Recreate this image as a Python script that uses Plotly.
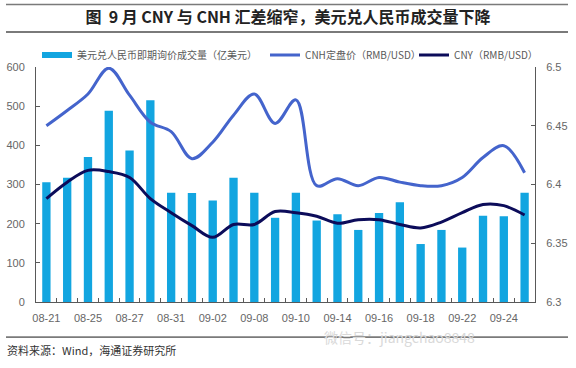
import plotly.graph_objects as go

dates = ["08-21", "08-24", "08-25", "08-26", "08-27", "08-28", "08-31", "09-01",
         "09-02", "09-07", "09-08", "09-09", "09-10", "09-11", "09-14", "09-15",
         "09-16", "09-17", "09-18", "09-21", "09-22", "09-23", "09-24", "09-25"]
tick_labels = ["08-21", "08-25", "08-27", "08-31", "09-02", "09-08", "09-10",
               "09-14", "09-16", "09-18", "09-22", "09-24"]
volume = [306, 317, 370, 488, 387, 515, 279, 278, 259, 317, 279, 215,
          279, 208, 224, 184, 227, 255, 148, 184, 139, 220, 219, 279]
cnh = [6.450, 6.463, 6.477, 6.499, 6.476, 6.453, 6.445, 6.422, 6.436, 6.459, 6.477, 6.452,
       6.472, 6.399, 6.405, 6.399, 6.406, 6.402, 6.399, 6.399, 6.406, 6.423, 6.433, 6.410]
cny = [6.388, 6.402, 6.412, 6.411, 6.406, 6.388, 6.376, 6.365, 6.355, 6.366, 6.366, 6.377,
       6.376, 6.373, 6.367, 6.370, 6.370, 6.366, 6.363, 6.368, 6.376, 6.383, 6.382, 6.374]

name_vol = "美元兑人民币即期询价成交量（亿美元）"
name_cnh = "CNH定盘价（RMB/USD）"
name_cny = "CNY（RMB/USD）"
title = "图  9 月 CNY 与 CNH 汇差缩窄，美元兑人民币成交量下降"
source = "资料来源：Wind，海通证券研究所"

bar_color = "#12A5E0"
cnh_color = "#4464CC"
cny_color = "#0C0C5A"
axis_color = "#595959"
rule_color = "#7a7a7a"
tick_font = dict(family="Liberation Sans, Arial, sans-serif", size=11, color="#666666")
cjk = "Noto Sans CJK SC, sans-serif"

ticktext = [d if d in tick_labels else "" for d in dates]

fig = go.Figure()
# legend swatch for bars (flat bar as in reference legend)
fig.add_trace(go.Scatter(x=[None], y=[None], mode="lines", name=name_vol, legend="legend",
                         line=dict(color=bar_color, width=6), hoverinfo="skip"))
fig.add_trace(go.Bar(x=dates, y=volume, marker=dict(color=bar_color, line=dict(width=0)),
                     name=name_vol, showlegend=False, yaxis="y"))
fig.add_trace(go.Scatter(x=dates, y=cnh, mode="lines", name=name_cnh, yaxis="y2",
                         legend="legend2",
                         line=dict(color=cnh_color, width=3, shape="spline", smoothing=1)))
fig.add_trace(go.Scatter(x=dates, y=cny, mode="lines", name=name_cny, yaxis="y2",
                         legend="legend3",
                         line=dict(color=cny_color, width=3, shape="spline", smoothing=1)))

L, R, T, B = 36, 41, 67, 66
W, H = 576, 368
pw, ph = W - L - R, H - T - B

def px_x(p):
    return (p - L) / pw

def px_y(p):
    return (H - B - p) / ph

def legend_at(xpx):
    return dict(orientation="h", xref="container", yref="container",
                x=xpx / W, y=1 - 55 / H, xanchor="left", yanchor="middle",
                font=dict(family=cjk, size=10, color="#595959"),
                bgcolor="rgba(0,0,0,0)", itemwidth=30)

def rule_box(ypx, thick):
    # horizontal rule drawn as a thin filled annotation box
    return dict(text=" ", x=px_x(6), y=px_y(ypx), xref="paper", yref="paper",
                xanchor="left", yanchor="middle", showarrow=False,
                width=562, height=thick, bgcolor=rule_color, borderpad=0, borderwidth=0,
                font=dict(size=1, color=rule_color))

def rule_shape(ypx, thick):
    return dict(type="line", xref="paper", yref="paper", x0=px_x(6), x1=px_x(568),
                y0=px_y(ypx), y1=px_y(ypx), layer="above",
                line=dict(color=rule_color, width=thick))

fig.update_layout(
    width=W, height=H,
    margin=dict(l=L, r=R, t=T, b=B, pad=0, autoexpand=False),
    paper_bgcolor="white", plot_bgcolor="white",
    bargap=0.6,
    showlegend=True,
    legend=legend_at(37),
    legend2=legend_at(265),
    legend3=legend_at(414),
    title=dict(text=title, x=0.5, xanchor="center", y=1 - 17 / H, yanchor="middle",
               font=dict(family=cjk, size=16, color="#222222", weight="bold")),
    xaxis=dict(type="category", tickmode="array", tickvals=dates, ticktext=ticktext,
               tickson="boundaries", ticks="inside", ticklen=4, tickcolor=axis_color,
               showline=True, linecolor=axis_color, linewidth=1, showgrid=False,
               range=[-0.5, len(dates) - 0.5], tickfont=tick_font, ticklabelstandoff=6,
               tickangle=0, fixedrange=True),
    yaxis=dict(range=[0, 600], dtick=100, ticks="inside", ticklen=4, tickcolor=axis_color,
               showline=True, linecolor=axis_color, linewidth=1, showgrid=False,
               zeroline=False, tickfont=tick_font, ticklabelstandoff=8),
    yaxis2=dict(range=[6.3, 6.5], dtick=0.05, overlaying="y", side="right", ticks="inside",
                ticklen=4, tickcolor=axis_color, showline=True, linecolor=axis_color,
                linewidth=1, showgrid=False, zeroline=False, tickfont=tick_font,
                ticklabelstandoff=8),
    shapes=[rule_shape(4.5, 1.5), rule_shape(32, 2), rule_shape(337, 1.5)],
    annotations=[
        rule_box(4.5, 1),
        rule_box(32, 2),
        rule_box(337, 1),
        dict(text=source, xref="paper", yref="paper", x=px_x(5), y=px_y(350),
             xanchor="left", yanchor="middle", showarrow=False,
             font=dict(family=cjk, size=11, color="#333333")),
        dict(text="微信号：jiangchao8848", xref="paper", yref="paper", x=px_x(322), y=px_y(337),
             xanchor="left", yanchor="middle", showarrow=False,
             font=dict(family=cjk, size=14, color="#d9d9d9")),
    ],
)

fig.write_html("out.html", config={"displayModeBar": False},
               post_script="document.body.style.margin='0';document.body.style.overflow='hidden';")
